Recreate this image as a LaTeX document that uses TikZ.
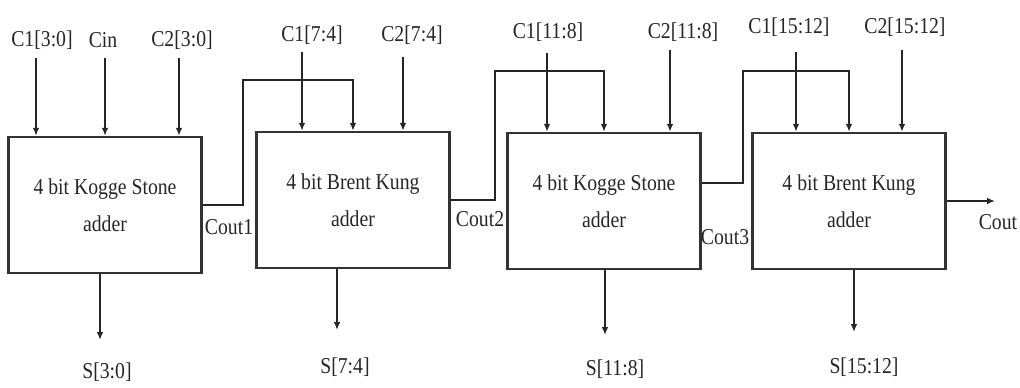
\documentclass[tikz,border=0pt]{standalone}
\usepackage{fontspec}
\setmainfont{Liberation Serif}[FakeStretch=0.87]
\usetikzlibrary{arrows.meta}

\begin{document}
\begin{tikzpicture}[
	x=0.75pt, y=-0.75pt,
	adder/.style={rectangle, draw=black!80, line width=1.8pt, minimum width=144.75pt, minimum height=102pt, align=center, font=\fontsize{17}{28}\selectfont, text=black!85},
	sig/.style={-{Latex[length=6pt,width=5pt]}, line width=1.4pt, draw=black!85},
	lbl/.style={font=\fontsize{17}{20}\selectfont, text=black!85, inner sep=0pt}
	]
	\useasboundingbox (0,0) rectangle (1020,387);
	
	% --- Sumadores ---
	\node[adder] (ks1) at (105,205) {4 bit Kogge Stone\\adder};
	\node[adder] (bk1) at (353,200) {4 bit Brent Kung\\adder};
	\node[adder] (ks2) at (604,201) {4 bit Kogge Stone\\adder};
	\node[adder] (bk2) at (849,201) {4 bit Brent Kung\\adder};
	
	% --- Entradas ---
	\foreach \nm/\txt/\lx/\ly/\ax/\sy/\bx in {
		c1a/{C1[3:0]}/42/40/36/58/ks1, cin/{Cin}/103/40/105/58/ks1, c2a/{C2[3:0]}/182/40/179/58/ks1,
		c1b/{C1[7:4]}/312/35/302/52/bk1, c2b/{C2[7:4]}/412/35/403/57/bk1,
		c1c/{C1[11:8]}/548/32/547/53/ks2, c2c/{C2[11:8]}/683/32/670/50/ks2,
		c1d/{C1[15:12]}/789/27/796/52/bk2, c2d/{C2[15:12]}/905/27/902/50/bk2}
	{
		\node[lbl] (\nm) at (\lx,\ly) {\txt};
		\coordinate (\nm-s) at (\ax,\sy);
		\draw[sig] (\nm-s) -- (\nm-s |- \bx.north);
	}
	
	% --- Acarreos ---
	\coordinate (b1) at (243,80);
	\coordinate (b2) at (495,71);
	\coordinate (b3) at (743,71);
	\coordinate (j3) at (743,183);
	\draw[sig] (ks1.east) -| (b1) -| (bk1.north);
	\draw[sig] (bk1.east) -| (b2) -| (ks2.north);
	\draw[sig] (ks2.east |- j3) -- (j3) -- (b3) -| (bk2.north);
	
	\node[lbl] (co1) at (229,227) {Cout1};
	\node[lbl] (co2) at (480,219) {Cout2};
	\node[lbl] (co3) at (725,237) {Cout3};
	
	\coordinate (cout-e) at (995,201);
	\draw[sig] (bk2.east) -- (cout-e);
	\node[lbl] (cout) at (998,222) {Cout};
	
	% --- Salidas ---
	\foreach \nm/\txt/\ax/\ty/\lx/\ly/\bx in {
		s1/{S[3:0]}/100/340/107/372/ks1, s2/{S[7:4]}/337/330/345/367/bk1,
		s3/{S[11:8]}/605/335/615/369/ks2, s4/{S[15:12]}/854/332/864/367/bk2}
	{
		\coordinate (\nm-e) at (\ax,\ty);
		\draw[sig] (\nm-e |- \bx.south) -- (\nm-e);
		\node[lbl] (\nm) at (\lx,\ly) {\txt};
	}
	
\end{tikzpicture}
\end{document}
